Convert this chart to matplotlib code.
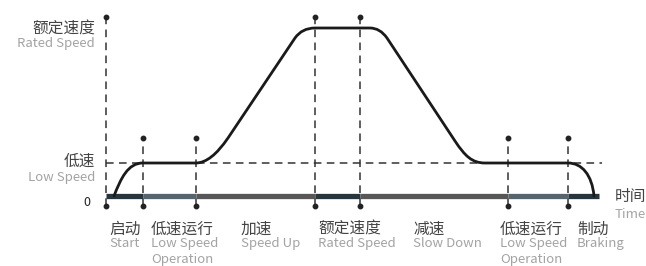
import matplotlib
matplotlib.use("Agg")
import matplotlib.pyplot as plt
from matplotlib.path import Path
from matplotlib.patches import PathPatch

# speed units: 0 = stopped, 33 = low speed, 168 = rated speed
low_speed = 33
rated_speed = 168

# speed curve (bezier vertices: time, speed)
curve_t = [114, 121, 128, 143, 196, 211, 228, 295, 302, 315, 370, 380, 387,
           455, 465, 472, 485, 568, 582, 592, 594]
curve_v = [0, 18, 33, 33, 33, 33, 58, 158, 168, 168, 168, 168, 158,
           55, 40, 33, 33, 33, 33, 21, 0]
curve_codes = ["M", "C", "C", "C", "L", "Q", "Q", "L", "Q", "Q", "L", "Q", "Q",
               "L", "C", "C", "C", "L", "C", "C", "C"]

# phase boundaries and marker heights
bound_t = [106, 143, 196, 315, 360, 508, 568]
bound_top = [179, 58, 58, 179, 179, 58, 58]
bar_edges = [106, 143, 196, 315, 360, 508, 568, 599]
bar_colors = ["#27353d", "#56656d", "#575757", "#27353d", "#575757", "#56656d", "#27353d"]

phase_x = [109, 151, 241, 318, 413, 500, 577]
phase_cn = ["启动", "低速运行", "加速", "额定速度", "减速", "低速运行", "制动"]
phase_en = ["Start", "Low Speed\nOperation", "Speed Up", "Rated Speed",
            "Slow Down", "Low Speed\nOperation", "Braking"]

plt.rcParams['font.family'] = ['Noto Sans CJK SC', 'DejaVu Sans']

fig = plt.figure(figsize=(6.46, 2.66), dpi=100)
ax = fig.add_axes([0, 0, 1, 1])
ax.set_xlim(0, 646)
ax.set_ylim(-70, 196)
ax.axis("off")

dash_color = "#333333"
# vertical dashed lines with dots
for t, top in zip(bound_t, bound_top):
    ax.plot([t, t], [-10, top], color=dash_color, lw=1.1, ls=(0, (5, 3.5)), zorder=1)
    ax.plot([t, t], [-10, top], "o", color="#222222", ms=3.2, zorder=3)

# low speed dashed line
ax.plot([106, 602], [low_speed, low_speed], color=dash_color, lw=1.1, ls=(0, (5, 3.5)), zorder=1)

# time axis bar
for i, c in enumerate(bar_colors):
    ax.plot([bar_edges[i], bar_edges[i + 1]], [0, 0], color=c, lw=3.8,
            solid_capstyle="butt", zorder=2)

# speed curve
code_map = {"M": Path.MOVETO, "L": Path.LINETO, "Q": Path.CURVE3, "C": Path.CURVE4}
path = Path(list(zip(curve_t, curve_v)), [code_map[c] for c in curve_codes])
ax.add_patch(PathPatch(path, facecolor="none", edgecolor="#1a1a1a", lw=2.0,
                       capstyle="round", zorder=4))

cn_color = "#444444"
en_color = "#a3a3a3"
fw = "light"
cn_size = 11.3
en_size = 9.5

# y labels
ax.text(95, rated_speed - 1, "额定速度", ha="right", va="center", fontsize=cn_size, color=cn_color, fontweight=fw)
ax.text(95, rated_speed - 16, "Rated Speed", ha="right", va="center", fontsize=en_size, color=en_color, fontweight=fw)
ax.text(95, low_speed + 2, "低速", ha="right", va="center", fontsize=cn_size, color=cn_color, fontweight=fw)
ax.text(95, low_speed - 15, "Low Speed", ha="right", va="center", fontsize=en_size, color=en_color, fontweight=fw)
ax.text(90, -6, "0", ha="right", va="center", fontsize=9, color="#222222")

# time label
ax.text(615, -1, "时间", ha="left", va="center", fontsize=cn_size, color=cn_color, fontweight=fw)
ax.text(615, -18, "Time", ha="left", va="center", fontsize=en_size, color=en_color, fontweight=fw)

# phase labels
for x, cn, en in zip(phase_x, phase_cn, phase_en):
    ax.text(x, -33, cn, ha="left", va="center", fontsize=cn_size, color=cn_color, fontweight=fw)
    ax.text(x, -41, en, ha="left", va="top", fontsize=en_size, color=en_color, fontweight=fw,
            linespacing=1.3)

fig.savefig("out.png", dpi=100)
